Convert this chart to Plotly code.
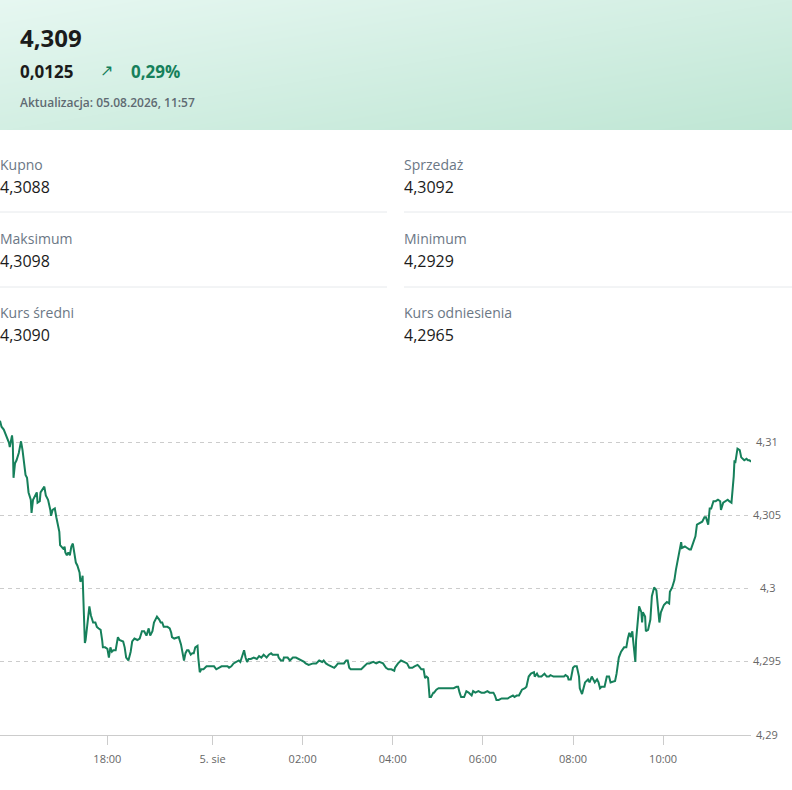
import pandas as pd
import plotly.graph_objects as go

# ========================================================
# Data
# ========================================================

kurs_biezacy = "4,309"
zmiana = "0,0125"
zmiana_proc = "0,29%"
aktualizacja = "Aktualizacja: 05.08.2026, 11:57"

stat_labels = ["Kupno", "Sprzedaż", "Maksimum", "Minimum", "Kurs średni", "Kurs odniesienia"]
stat_values = ["4,3088", "4,3092", "4,3098", "4,2929", "4,3090", "4,2965"]

# minutes counted from 2026-08-04 00:00
minutes = [
    937, 939, 942, 946, 949, 950, 953, 954, 955, 957, 959, 962, 965, 967, 969, 971, 973, 975, 978, 979,
    981, 984, 986, 987, 990, 991, 994, 996, 998, 1001, 1004, 1005, 1007, 1010, 1012, 1014, 1016, 1017, 1019, 1022,
    1023, 1024, 1026, 1028, 1030, 1032, 1034, 1036, 1038, 1040, 1043, 1044, 1046, 1047, 1048, 1050, 1051, 1054, 1056, 1058,
    1061, 1064, 1066, 1068, 1071, 1073, 1074, 1077, 1080,
    1082, 1084, 1086, 1088, 1091, 1094, 1096, 1101, 1103, 1105, 1108, 1111, 1113, 1116, 1120, 1123, 1126, 1129, 1132, 1135,
    1137, 1140, 1142, 1146, 1149, 1151, 1153, 1155, 1160, 1163, 1165, 1166, 1169, 1173, 1175, 1178, 1180,
    1402, 1404, 1406, 1408, 1411, 1413, 1415, 1417, 1420, 1421, 1423, 1425, 1428, 1432, 1435, 1438,
    1442, 1445, 1448, 1452, 1455, 1460, 1462, 1465, 1468, 1472, 1475, 1477, 1480, 1482, 1484, 1486, 1488, 1491, 1495, 1499,
    1502, 1505, 1508, 1512, 1515, 1518, 1520, 1523, 1527, 1528, 1531, 1534, 1535, 1538, 1540, 1543, 1547, 1551, 1555, 1558,
    1562, 1564, 1568, 1574, 1578, 1582, 1586, 1588, 1591, 1594, 1598, 1602, 1604, 1607, 1611, 1615, 1618, 1620, 1622, 1624,
    1628, 1634, 1638, 1642, 1646, 1649, 1654, 1658, 1662, 1667, 1671, 1674, 1678, 1682, 1683, 1687, 1691, 1695, 1699, 1702,
    1706, 1709, 1713, 1715, 1718, 1721, 1722, 1723, 1725, 1727, 1729, 1731, 1734, 1735, 1738, 1741, 1745, 1754, 1761, 1765,
    1767, 1769, 1771, 1775, 1778, 1781, 1785, 1787, 1790, 1794, 1798, 1802, 1806, 1809, 1814, 1816, 1818, 1821, 1825, 1829,
    1833, 1836, 1840, 1842, 1845, 1848, 1849, 1852, 1856, 1858, 1861, 1864, 1868, 1869, 1872, 1874, 1878, 1882, 1885, 1888,
    1890, 1894, 1897, 1901, 1904, 1908, 1910, 1913, 1914, 1917, 1920, 1922, 1925, 1928, 1929, 1932, 1934, 1936, 1940, 1942,
    1945, 1948, 1949, 1952, 1954, 1956, 1958, 1962, 1965, 1968, 1970, 1976, 1978, 1981, 1984, 1988, 1991, 1993, 1995, 1997,
    1999, 2000, 2003, 2004, 2007, 2008, 2011, 2012, 2013, 2016, 2017, 2020, 2023, 2025, 2028, 2031, 2033, 2035, 2037, 2041,
    2043, 2045, 2048, 2049, 2052, 2055, 2057, 2060, 2061, 2064, 2065, 2069, 2072, 2075, 2077, 2081, 2083, 2085, 2088, 2092,
    2095, 2097, 2100, 2102, 2104, 2107, 2110, 2113, 2116, 2117, 2120, 2123, 2126, 2128, 2131, 2134, 2135, 2136, 2139, 2142,
    2144, 2148, 2151, 2153, 2155, 2157,
]

kurs = [
    4.3115, 4.3111, 4.3109, 4.3104, 4.3100, 4.3097, 4.3105, 4.3100, 4.3076, 4.3086, 4.3088, 4.3093, 4.3101, 4.3095, 4.3088, 4.3078, 4.3076, 4.3066, 4.3061, 4.3052,
    4.3061, 4.3064, 4.3066, 4.3059, 4.3060, 4.3066, 4.3068, 4.3070, 4.3064, 4.3061, 4.3054, 4.3050, 4.3054, 4.3055, 4.3049, 4.3044, 4.3039, 4.3030, 4.3029, 4.3027,
    4.3029, 4.3025, 4.3023, 4.3025, 4.3023, 4.3029, 4.3031, 4.3023, 4.3018, 4.3016, 4.3011, 4.3005, 4.3006, 4.3009, 4.2986, 4.2963, 4.2965, 4.2981, 4.2988, 4.2982,
    4.2977, 4.2977, 4.2974, 4.2973, 4.2972, 4.2965, 4.2960, 4.2960, 4.2959,
    4.2953, 4.2960, 4.2957, 4.2958, 4.2958, 4.2967, 4.2965, 4.2964, 4.2960, 4.2953, 4.2951, 4.2957, 4.2964, 4.2966, 4.2965, 4.2966, 4.2971, 4.2971, 4.2968, 4.2973,
    4.2968, 4.2971, 4.2977, 4.2981, 4.2979, 4.2977, 4.2977, 4.2974, 4.2974, 4.2973, 4.2970, 4.2967, 4.2966, 4.2967, 4.2967, 4.2962, 4.2955,
    4.2951, 4.2956, 4.2958, 4.2958, 4.2955, 4.2956, 4.2956, 4.2960, 4.2961, 4.2953, 4.2943, 4.2945, 4.2945, 4.2947, 4.2947, 4.2947,
    4.2947, 4.2945, 4.2946, 4.2947, 4.2947, 4.2947, 4.2946, 4.2947, 4.2949, 4.2950, 4.2951, 4.2950, 4.2955, 4.2958, 4.2953, 4.2950, 4.2952, 4.2952, 4.2953, 4.2952,
    4.2954, 4.2953, 4.2955, 4.2953, 4.2955, 4.2956, 4.2955, 4.2955, 4.2955, 4.2953, 4.2951, 4.2951, 4.2953, 4.2953, 4.2953, 4.2951, 4.2953, 4.2953, 4.2952, 4.2951,
    4.2950, 4.2949, 4.2948, 4.2949, 4.2949, 4.2951, 4.2950, 4.2951, 4.2949, 4.2948, 4.2947, 4.2946, 4.2947, 4.2949, 4.2949, 4.2949, 4.2951, 4.2951, 4.2946, 4.2945,
    4.2945, 4.2945, 4.2945, 4.2947, 4.2949, 4.2949, 4.2950, 4.2949, 4.2950, 4.2949, 4.2946, 4.2945, 4.2945, 4.2944, 4.2946, 4.2949, 4.2951, 4.2950, 4.2949, 4.2946,
    4.2946, 4.2947, 4.2948, 4.2947, 4.2945, 4.2945, 4.2942, 4.2939, 4.2940, 4.2939, 4.2926, 4.2926, 4.2929, 4.2929, 4.2931, 4.2932, 4.2932, 4.2932, 4.2932, 4.2933,
    4.2933, 4.2929, 4.2926, 4.2926, 4.2930, 4.2929, 4.2927, 4.2930, 4.2929, 4.2930, 4.2929, 4.2929, 4.2930, 4.2929, 4.2929, 4.2927, 4.2924, 4.2924, 4.2925, 4.2925,
    4.2925, 4.2926, 4.2927, 4.2926, 4.2927, 4.2927, 4.2928, 4.2931, 4.2932, 4.2933, 4.2940, 4.2942, 4.2943, 4.2940, 4.2942, 4.2940, 4.2940, 4.2942, 4.2940, 4.2940,
    4.2941, 4.2940, 4.2940, 4.2940, 4.2940, 4.2940, 4.2941, 4.2940, 4.2938, 4.2938, 4.2946, 4.2947, 4.2947, 4.2940, 4.2932, 4.2928, 4.2932, 4.2936, 4.2938, 4.2936,
    4.2940, 4.2936, 4.2936, 4.2938, 4.2936, 4.2932, 4.2933, 4.2933, 4.2940, 4.2940, 4.2936, 4.2937, 4.2942, 4.2953, 4.2957, 4.2960, 4.2960, 4.2966, 4.2970, 4.2967,
    4.2971, 4.2965, 4.2950, 4.2965, 4.2984, 4.2988, 4.2984, 4.2977, 4.2984, 4.2981, 4.2971, 4.2972, 4.2979, 4.2995, 4.3001, 4.2999, 4.2988, 4.2977, 4.2984, 4.2989,
    4.2990, 4.2991, 4.2990, 4.2998, 4.3001, 4.3006, 4.3013, 4.3021, 4.3023, 4.3032, 4.3028, 4.3029, 4.3028, 4.3027, 4.3027, 4.3034, 4.3036, 4.3044, 4.3045, 4.3046,
    4.3049, 4.3049, 4.3044, 4.3055, 4.3055, 4.3060, 4.3060, 4.3061, 4.3060, 4.3054, 4.3059, 4.3060, 4.3061, 4.3060, 4.3059, 4.3077, 4.3088, 4.3086, 4.3096, 4.3095,
    4.3090, 4.3088, 4.3089, 4.3088, 4.3088, 4.3087,
]

tick_times = ["2026-08-04 18:00", "2026-08-05 00:00", "2026-08-05 02:00", "2026-08-05 04:00",
              "2026-08-05 06:00", "2026-08-05 08:00", "2026-08-05 10:00"]
tick_labels = ["18:00", "5. sie", "02:00", "04:00", "06:00", "08:00", "10:00"]

y_ticks = [4.29, 4.295, 4.30, 4.305, 4.31]
y_labels = ["4,29", "4,295", "4,3", "4,305", "4,31"]

czas = pd.Timestamp("2026-08-04 00:00") + pd.to_timedelta(minutes, unit="m")

# ========================================================
# Layout helpers (pixel -> paper)
# ========================================================

W, H = 792, 790
FONT = "Open Sans"
GREEN = "#16805b"


def px(x):
    return x / W


def py(y):
    return 1 - y / H


fig = go.Figure()

# header background (soft mint gradient)
fig.add_trace(go.Heatmap(
    x=[0, 1], y=[0, 1], z=[[0.5, 1.0], [0.0, 0.5]],
    zsmooth="best", showscale=False, hoverinfo="skip",
    colorscale=[[0, "#e6f7f1"], [1, "#bfe6d4"]],
    xaxis="x2", yaxis="y2",
))

# price line
fig.add_trace(go.Scatter(
    x=czas, y=kurs, mode="lines",
    line=dict(color=GREEN, width=2),
    hoverinfo="skip", showlegend=False,
))

annotations = []


def text(x, y, s, size, color, weight="normal", anchor="left"):
    annotations.append(dict(
        x=px(x), y=py(y), xref="paper", yref="paper", text=s, showarrow=False,
        xanchor=anchor, yanchor="middle", borderpad=0, borderwidth=0,
        font=dict(family=FONT, size=size, color=color, weight=weight),
    ))


# header texts
text(20, 37, kurs_biezacy, 24, "#1b1b1b", "bold")
text(20, 71, zmiana, 17, "#1b1b1b", "bold")
text(100, 70, "↗", 16, GREEN)
text(131, 71, zmiana_proc, 17, GREEN, "bold")
text(20, 102, aktualizacja, 12, "#5f6a72", 600)

# statistics grid
row_y = [164, 238, 312]
col_x = [0, 404]
for i, (lab, val) in enumerate(zip(stat_labels, stat_values)):
    r, c = divmod(i, 2)
    text(col_x[c], row_y[r], lab, 14, "#6b7785")
    text(col_x[c], row_y[r] + 23, val, 16, "#1b1b1b")

shapes = []
for sep in [212, 287]:
    for x0, x1 in [(0, 387), (404, 792)]:
        shapes.append(dict(type="line", xref="paper", yref="paper",
                           x0=px(x0), x1=px(x1), y0=py(sep), y1=py(sep),
                           line=dict(color="#e6e9ec", width=1)))

# y labels on the right, centred like the original
for v, lab in zip(y_ticks, y_labels):
    annotations.append(dict(
        x=px(767), y=v, xref="paper", yref="y", text=lab, showarrow=False,
        xanchor="center", yanchor="middle", yshift=1,
        font=dict(family=FONT, size=11, color="#666666"),
    ))

fig.update_layout(
    width=W, height=H,
    margin=dict(l=0, r=0, t=0, b=0),
    paper_bgcolor="white", plot_bgcolor="white",
    showlegend=False, hovermode=False,
    font=dict(family=FONT),
    annotations=annotations, shapes=shapes,
    xaxis=dict(
        domain=[0, px(751)],
        range=[czas[0], czas[-1]],
        rangebreaks=[dict(bounds=["2026-08-04 19:41", "2026-08-04 23:21"])],
        tickvals=tick_times, ticktext=tick_labels,
        showgrid=False, zeroline=False,
        showline=True, linecolor="#cccccc", linewidth=1,
        ticks="outside", ticklen=9, tickcolor="#cccccc",
        ticklabelstandoff=5,
        tickfont=dict(family=FONT, size=11, color="#666666"),
        fixedrange=True,
    ),
    yaxis=dict(
        domain=[py(735), py(415)],
        range=[4.29, 4.3119],
        tickvals=y_ticks, showticklabels=False,
        showgrid=True, gridcolor="#cccccc", griddash="4px,4px", gridwidth=1,
        zeroline=False, fixedrange=True,
    ),
    xaxis2=dict(domain=[0, 1], range=[0, 1], visible=False, fixedrange=True),
    yaxis2=dict(domain=[py(130), 1], range=[0, 1], visible=False, fixedrange=True),
)

fig.write_html(
    "out.html",
    config={"displayModeBar": False},
    post_script="document.body.style.margin='0';document.body.style.overflow='hidden';",
)
